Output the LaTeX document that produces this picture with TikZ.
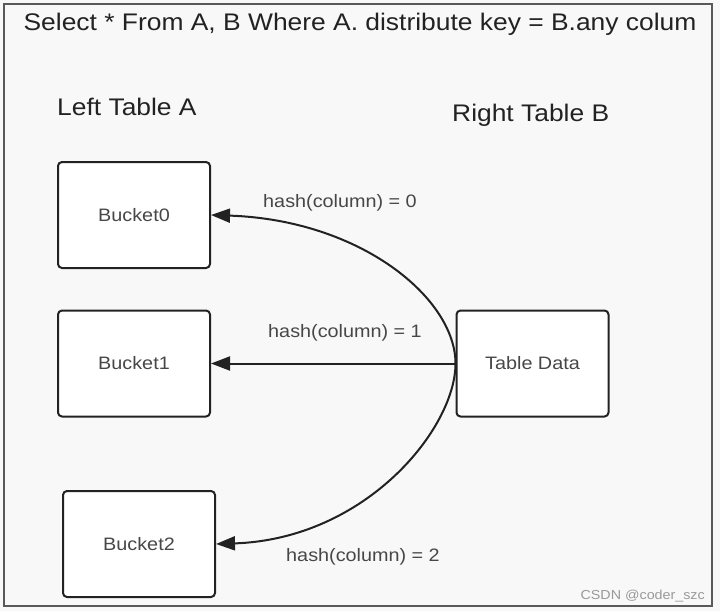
\documentclass[tikz,border=0pt]{standalone}
\usepackage{fontspec}
\setmainfont[FakeStretch=1.1]{Liberation Sans}
\usepackage{tikz}
\usetikzlibrary{arrows.meta,positioning}
\definecolor{pagebg}{HTML}{F8F8F8}
\definecolor{inkdark}{HTML}{222222}
\tikzstyle{bucket}=[draw=inkdark,line width=2pt,fill=white,rounded corners=4pt,minimum width=152pt,minimum height=106pt,inner sep=0pt,text=black!72,font=\fontsize{18}{20}\selectfont]
\tikzstyle{hashedge} = [draw=inkdark,line width=2pt,-{Triangle[length=19pt,width=14pt]}]
\tikzstyle{hashlabel} = [text=black!72,font=\fontsize{18}{20}\selectfont,inner sep=0pt]
\tikzstyle{heading} = [text=inkdark,font=\fontsize{24}{28}\selectfont,inner sep=0pt]

\begin{document}
\begin{tikzpicture}[x=1pt,y=-1pt]
    \useasboundingbox (0,0) rectangle (720,611);
    \fill[pagebg] (0,0) rectangle (720,611);
    \draw[black!65,line width=1.5pt] (4,4) rectangle (712,606);
    \node[heading] (title) at (360,24) {Select * From A, B Where A. distribute key = B.any colum};
    \node[heading,anchor=base west] (lefthead) at (57,115) {Left Table A};
    \node[heading,anchor=base west] (righthead) at (452,121) {Right Table B};
    \foreach \pos/\name/\txt in {{(134,215)/b0/Bucket0}, {(134,363.5)/b1/Bucket1}, {(139,544)/b2/Bucket2}, {(532.5,363.5)/td/Table Data}}
        \node[bucket] (\name) at \pos {\txt};
    \foreach \dest/\dy/\dx/\tilt/\num/\pos in {b0/-65/150/5/0/{(340,203)}, b1/0/0/0/1/{(345,333)}, b2/65/150/-5/2/{(363,557)}}{
        \path[hashedge] (td.west) .. controls +(0,\dy) and +(\dx,\tilt) .. (\dest.east);
        \node[hashlabel] (h\num) at \pos {hash(column) = \num};
    }
    \node[text=black!40,font=\fontsize{13}{15}\selectfont,anchor=base east,inner sep=0pt] (mark) at (705,599) {CSDN @coder\_szc};
\end{tikzpicture}
\end{document}
